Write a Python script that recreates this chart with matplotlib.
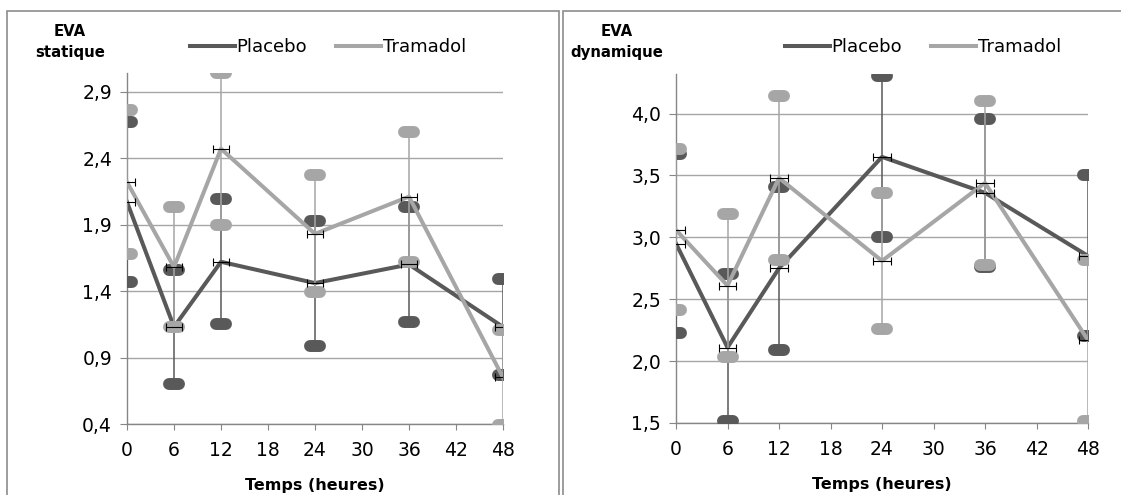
import matplotlib.pyplot as plt
from matplotlib.markers import MarkerStyle
from matplotlib.patches import Rectangle
from matplotlib.lines import Line2D

plt.rcParams['font.family'] = ['DejaVu Sans']

hours = [0, 6, 12, 24, 36, 48]
x_ticks = [0, 6, 12, 18, 24, 30, 36, 42, 48]

# EVA statique
stat_placebo = [2.07, 1.13, 1.62, 1.46, 1.60, 1.13]
stat_placebo_err = [0.60, 0.43, 0.47, 0.47, 0.43, 0.36]
stat_tramadol = [2.22, 1.58, 2.47, 1.83, 2.11, 0.75]
stat_tramadol_err = [0.54, 0.45, 0.57, 0.44, 0.49, 0.36]
stat_yticks = [0.4, 0.9, 1.4, 1.9, 2.4, 2.9]

# EVA dynamique
dyn_placebo = [2.95, 2.11, 2.75, 3.65, 3.36, 2.85]
dyn_placebo_err = [0.72, 0.59, 0.66, 0.65, 0.60, 0.65]
dyn_tramadol = [3.06, 2.61, 3.48, 2.81, 3.44, 2.17]
dyn_tramadol_err = [0.65, 0.58, 0.66, 0.55, 0.66, 0.65]
dyn_yticks = [1.5, 2.0, 2.5, 3.0, 3.5, 4.0]

DARK = '#595959'
LIGHT = '#a6a6a6'
GRID = '#a6a6a6'
AXIS = '#868686'

fig = plt.figure(figsize=(11.21, 4.95), dpi=100)

# panel frames
fig.add_artist(Rectangle((7 / 1121, -0.05), (559 - 7) / 1121, 1.05 - 11 / 495,
                         transform=fig.transFigure, fill=False, ec='#8c8c8c', lw=1.2))
fig.add_artist(Rectangle((563 / 1121, -0.05), 0.6, 1.05 - 11 / 495,
                         transform=fig.transFigure, fill=False, ec='#8c8c8c', lw=1.2))

cap_marker = MarkerStyle('_', capstyle='round')


def draw_series(ax, mean, err, color):
    lo = [m - e for m, e in zip(mean, err)]
    hi = [m + e for m, e in zip(mean, err)]
    ax.vlines(hours, lo, hi, colors=color, lw=1.1, zorder=3)
    ax.plot(hours, mean, color=color, lw=2.9, solid_joinstyle='round', zorder=3)
    ax.plot(hours, lo, ls='none', marker=cap_marker, ms=6.5, mew=8.6, mec=color, zorder=3)
    ax.plot(hours, hi, ls='none', marker=cap_marker, ms=6.5, mew=8.6, mec=color, zorder=3)
    ax.errorbar(hours, mean, xerr=1, fmt='none', ecolor='black', elinewidth=0.8,
                capsize=3, capthick=0.8, zorder=4)


def setup(ax, yticks, ylim, leg_x):
    ax.set_xlim(0, 48)
    ax.set_ylim(*ylim)
    ax.set_xticks(x_ticks)
    ax.set_yticks(yticks)
    ax.set_yticklabels([f'{v:.1f}'.replace('.', ',') for v in yticks])
    ax.grid(axis='y', color=GRID, lw=1)
    ax.set_axisbelow(True)
    for s in ['top', 'right']:
        ax.spines[s].set_visible(False)
    for s in ['left', 'bottom']:
        ax.spines[s].set_color(AXIS)
        ax.spines[s].set_linewidth(1)
    ax.tick_params(axis='x', length=4.3, color=AXIS, labelsize=13.5, pad=8)
    ax.tick_params(axis='y', length=4.8, color=AXIS, labelsize=13.5, pad=6)
    ax.set_xlabel('Temps (heures)', fontsize=11.5, fontweight='bold')
    ax.xaxis.set_label_coords(0.5, -0.155)
    ax.xaxis.label.set_va('top')
    handles = [Line2D([], [], color=DARK, lw=2.9), Line2D([], [], color=LIGHT, lw=2.9)]
    ax.legend(handles, ['Placebo', 'Tramadol'], loc='center', ncol=2,
              bbox_to_anchor=(leg_x, 1 - 47 / 495), bbox_transform=fig.transFigure,
              frameon=False, fontsize=13, handlelength=2.5, handletextpad=0.1,
              columnspacing=1.6, borderpad=0)


ax1 = fig.add_axes([127 / 1121, 1 - 424 / 495, (503 - 127) / 1121, (424 - 73) / 495])
draw_series(ax1, stat_placebo, stat_placebo_err, DARK)
draw_series(ax1, stat_tramadol, stat_tramadol_err, LIGHT)
setup(ax1, stat_yticks, (0.4, 3.04), 328 / 1121)
fig.text(70 / 1121, 1 - 42 / 495, 'EVA\nstatique', ha='center', va='center',
         fontsize=10.7, fontweight='bold', linespacing=1.45)

ax2 = fig.add_axes([676 / 1121, 1 - 423 / 495, (1088 - 676) / 1121, (423 - 74) / 495])
draw_series(ax2, dyn_placebo, dyn_placebo_err, DARK)
draw_series(ax2, dyn_tramadol, dyn_tramadol_err, LIGHT)
setup(ax2, dyn_yticks, (1.5, 4.32), 923 / 1121)
fig.text(617 / 1121, 1 - 42 / 495, 'EVA\ndynamique', ha='center', va='center',
         fontsize=10.7, fontweight='bold', linespacing=1.45)

fig.savefig('out.png', dpi=100)
